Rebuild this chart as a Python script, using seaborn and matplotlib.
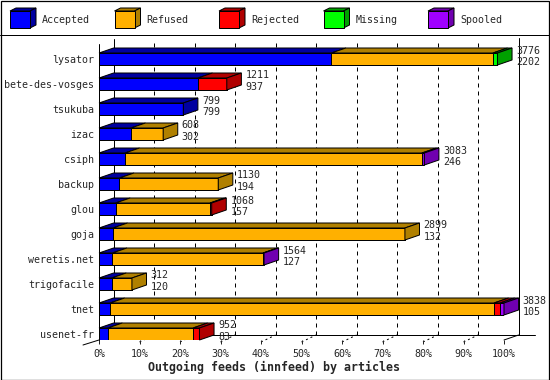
import numpy as np
import pandas as pd
import seaborn as sns
import matplotlib
matplotlib.use('Agg')
import matplotlib.pyplot as plt
from matplotlib.patches import Polygon, Rectangle
from matplotlib.lines import Line2D

# data (articles per outgoing feed)
feeds = ['lysator', 'bete-des-vosges', 'tsukuba', 'izac', 'csiph', 'backup',
         'glou', 'goja', 'weretis.net', 'trigofacile', 'tnet', 'usenet-fr']
total = [3776, 1211, 799, 608, 3083, 1130, 1068, 2899, 1564, 312, 3838, 952]
accepted = [2202, 937, 799, 302, 246, 194, 157, 132, 127, 120, 105, 83]
refused = [1531, 0, 0, 306, 2814, 936, 895, 2767, 1427, 192, 3638, 808]
rejected = [0, 274, 0, 0, 0, 0, 16, 0, 0, 0, 57, 61]
missing = [43, 0, 0, 0, 0, 0, 0, 0, 0, 0, 0, 0]
spooled = [0, 0, 0, 0, 23, 0, 0, 0, 10, 0, 38, 0]

statuses = ['Accepted', 'Refused', 'Rejected', 'Missing', 'Spooled']
front_colors = ['#0000ff', '#ffb000', '#ff0000', '#00ff00', '#a000ff']
dark_colors = ['#0000a0', '#b08000', '#b00000', '#00a000', '#7000b0']
tick_vals = [0, 10, 20, 30, 40, 50, 60, 70, 80, 90, 100]
tick_labels = [f'{t}%' for t in tick_vals]

W, H = 550, 380
sns.set_style('white')
plt.rcParams['font.family'] = ['DejaVu Sans Mono']
plt.rcParams['font.size'] = 7.2

# percent of the biggest feed, stacked
scale = 100.0 / max(total)
parts = np.array([accepted, refused, rejected, missing, spooled], dtype=float) * scale
cum = np.cumsum(parts, axis=0)
starts = cum - parts

fig = plt.figure(figsize=(W / 100, H / 100), dpi=100)
ax = fig.add_axes([99 / W, (H - 340) / H, 405 / W, 296 / H])

dx, dy, half = 3.6, 0.2, 0.24
ytop, ybot = -0.6, 11.24

# back wall: dashed grid, floor, back edges
for t in tick_vals[1:-1]:
    ax.plot([t + dx, t + dx], [ybot - dy, ytop - dy], color='black', lw=0.72,
            ls=(0, (4, 4)), zorder=0.5, clip_on=False)
    ax.plot([t, t + dx], [ybot + 0.08, ybot - dy], color='black', lw=0.72,
            ls=(0, (2, 3)), zorder=0.5, clip_on=False)
ax.plot([dx, dx], [ybot - dy, ytop - dy], color='black', lw=0.72, zorder=0.5, clip_on=False)
ax.plot([100 + dx, 100 + dx], [ybot - dy, ytop - dy - 0.05], color='black', lw=0.72,
        zorder=0.5, clip_on=False)
ax.plot([dx, 107.6], [ybot - dy, ybot - dy], color='black', lw=0.72, zorder=0.5, clip_on=False)
ax.plot([100, 100 + dx], [ybot, ybot - dy], color='black', lw=0.72, zorder=0.5, clip_on=False)
ax.plot([0, -3.95], [ybot, ybot + dy], color='black', lw=0.72, zorder=0.5, clip_on=False)
ax.plot([0, 0], [ybot, ytop], color='black', lw=0.72, zorder=3, clip_on=False)

# stacked bars: draw cumulative totals from the last status backwards
for k in range(len(statuses) - 1, -1, -1):
    df = pd.DataFrame({'feed': feeds, 'value': cum[k]})
    sns.barplot(data=df, x='value', y='feed', order=feeds, orient='h',
                color=front_colors[k], saturation=1, width=2 * half,
                edgecolor='black', linewidth=0.72, errorbar=None, ax=ax, zorder=2)

# fake 3D: top faces per segment, side face for the last one
for i in range(len(feeds)):
    yt = i - half
    last = None
    for k in range(len(statuses)):
        if parts[k, i] <= 0:
            continue
        x0, x1 = starts[k, i], cum[k, i]
        ax.add_patch(Polygon([(x0, yt), (x1, yt), (x1 + dx, yt - dy), (x0 + dx, yt - dy)],
                             closed=True, fc=dark_colors[k], ec='black', lw=0.72,
                             zorder=2.5, clip_on=False))
        last = k
    xe = cum[-1, i]
    ax.add_patch(Polygon([(xe, yt), (xe, i + half), (xe + dx, i + half - dy), (xe + dx, yt - dy)],
                         closed=True, fc=dark_colors[last], ec='black', lw=0.72,
                         zorder=2.5, clip_on=False))
    ax.text(xe + dx + 1.0, i - 0.22, str(total[i]), va='baseline', ha='left',
            fontsize=7.2, zorder=4, clip_on=False)
    ax.text(xe + dx + 1.0, i + 0.24, str(accepted[i]), va='baseline', ha='left',
            fontsize=7.2, zorder=4, clip_on=False)

ax.set_xlim(0, 100)
ax.set_ylim(ybot, ytop)
ax.set_xticks(tick_vals)
ax.set_xticklabels(tick_labels)
ax.tick_params(axis='x', length=3, width=0.72, direction='out', pad=3.6, labelsize=7.2,
               bottom=True)
ax.tick_params(axis='y', length=0, pad=3.6, labelsize=7.2)
ax.set_xlabel('')
ax.set_ylabel('')
for s in ax.spines.values():
    s.set_visible(False)
ax.patch.set_alpha(0)

fig.text(274.5 / W, 1 - 367 / H, 'Outgoing feeds (innfeed) by articles',
         ha='center', va='center', fontsize=8.4, fontweight='bold')

# legend strip with little boxes
def fx(px):
    return px / W

def fy(py):
    return 1 - py / H

for j, name in enumerate(statuses):
    x0 = 10 + j * 104.5
    bw, bh, ddx, ddy = 20, 17, 6, 3
    top = 11
    fig.add_artist(Polygon([(fx(x0), fy(top)), (fx(x0 + ddx), fy(top - ddy)),
                            (fx(x0 + bw + ddx), fy(top - ddy)), (fx(x0 + bw), fy(top))],
                           closed=True, fc=dark_colors[j], ec='black', lw=0.72,
                           transform=fig.transFigure))
    fig.add_artist(Polygon([(fx(x0 + bw), fy(top)), (fx(x0 + bw + ddx), fy(top - ddy)),
                            (fx(x0 + bw + ddx), fy(top + bh - ddy)), (fx(x0 + bw), fy(top + bh))],
                           closed=True, fc=dark_colors[j], ec='black', lw=0.72,
                           transform=fig.transFigure))
    fig.add_artist(Rectangle((fx(x0), fy(top + bh)), bw / W, bh / H, fc=front_colors[j],
                             ec='black', lw=0.72, transform=fig.transFigure))
    fig.text(fx(x0 + 32), fy(20), name, ha='left', va='center', fontsize=7.2)

fig.add_artist(Line2D([0, 1], [fy(35), fy(35)], color='black', lw=0.72,
                      transform=fig.transFigure))
fig.add_artist(Rectangle((0.5 / W, 0.5 / H), (W - 1.5) / W, (H - 1.5) / H, fill=False,
                         ec='black', lw=0.9, transform=fig.transFigure))

fig.savefig('out.png', dpi=100)
